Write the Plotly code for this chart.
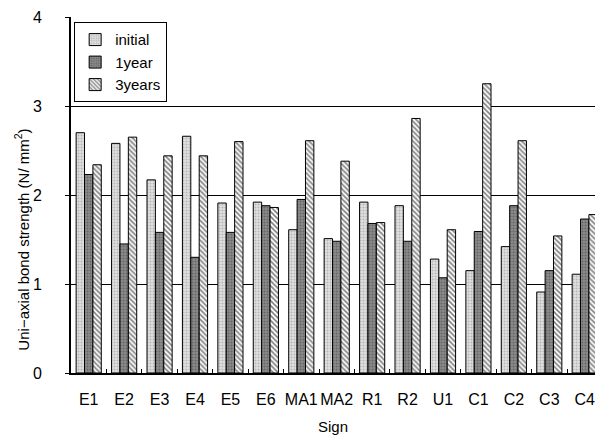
import plotly.graph_objects as go

signs = ["E1", "E2", "E3", "E4", "E5", "E6", "MA1", "MA2", "R1", "R2", "U1", "C1", "C2", "C3", "C4"]
initial = [2.70, 2.58, 2.17, 2.66, 1.91, 1.92, 1.61, 1.51, 1.92, 1.88, 1.28, 1.15, 1.42, 0.91, 1.11]
year1 = [2.23, 1.45, 1.58, 1.30, 1.58, 1.88, 1.95, 1.48, 1.68, 1.48, 1.07, 1.59, 1.88, 1.15, 1.73]
years3 = [2.34, 2.65, 2.44, 2.44, 2.60, 1.86, 2.61, 2.38, 1.69, 2.86, 1.61, 3.25, 2.61, 1.54, 1.78]
yticks = [0, 1, 2, 3, 4]

FONT = "Liberation Sans, Arial, sans-serif"

fig = go.Figure()
fig.add_trace(go.Bar(
    x=signs, y=initial, name="initial",
    marker=dict(color="#d0d0d0", line=dict(color="black", width=1),
                pattern=dict(shape=".", fgcolor="#8a8a8a", bgcolor="#e0e0e0", size=3, solidity=0.35)),
))
fig.add_trace(go.Bar(
    x=signs, y=year1, name="1year",
    marker=dict(color="#707070", line=dict(color="black", width=1),
                pattern=dict(shape=".", fgcolor="#404040", bgcolor="#8a8a8a", size=3, solidity=0.35)),
))
fig.add_trace(go.Bar(
    x=signs, y=years3, name="3years",
    marker=dict(color="white", line=dict(color="black", width=1),
                pattern=dict(shape="\\", fgcolor="black", bgcolor="white", size=3.5, solidity=0.45)),
))

fig.update_layout(
    width=595, height=442,
    margin=dict(l=71, r=0, t=17, b=69),
    paper_bgcolor="white", plot_bgcolor="white",
    barmode="group", bargap=0.29, bargroupgap=0,
    font=dict(family=FONT, size=15, color="black"),
    showlegend=True,
    legend=dict(x=0.006, y=0.985, xanchor="left", yanchor="top",
                bgcolor="white", bordercolor="black", borderwidth=1,
                font=dict(family=FONT, size=15), itemwidth=30, tracegroupgap=0),
    xaxis=dict(
        title=dict(text="Sign", font=dict(family=FONT, size=15), standoff=14),
        type="category", range=[-0.5, 14.29], tickangle=0,
        showline=True, linecolor="black", linewidth=2,
        ticks="inside", tickson="boundaries", ticklen=4, tickcolor="black",
        ticklabelstandoff=11, ticklabeloverflow="allow",
        showgrid=False, tickfont=dict(family=FONT, size=16),
    ),
    yaxis=dict(
        range=[0, 4], tickvals=yticks,
        showline=True, linecolor="black", linewidth=2,
        ticks="outside", ticklen=4, tickcolor="black",
        ticklabelstandoff=20,
        showgrid=True, gridcolor="black", gridwidth=1,
        zeroline=False, tickfont=dict(family=FONT, size=16),
    ),
    annotations=[dict(
        text="Uni−axial bond strength (N/ mm<sup>2</sup>)",
        textangle=-90, xref="paper", yref="paper",
        x=-0.0945, y=0.376, xanchor="center", yanchor="middle",
        showarrow=False, font=dict(family=FONT, size=15),
    )],
)

# remove the default page margin and scrollbars so the 595x442 figure fills the window exactly
fig.write_html(
    "out.html",
    config={"displayModeBar": False},
    post_script="document.body.style.margin='0';document.documentElement.style.overflow='hidden';document.body.style.overflow='hidden';",
)
